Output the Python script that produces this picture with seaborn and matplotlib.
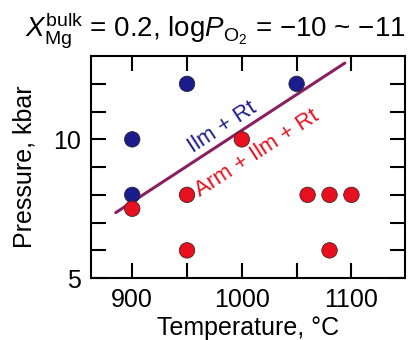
import matplotlib
matplotlib.use('Agg')
import matplotlib.pyplot as plt
import seaborn as sns
import pandas as pd

# Experimental run conditions
temps = [900, 900, 950, 1050, 900, 950, 950, 1000, 1060, 1080, 1100, 1080]
pressures = [10, 8, 12, 12, 7.5, 8, 6, 10, 8, 8, 8, 6]
phases = ['Ilm + Rt'] * 4 + ['Arm + Ilm + Rt'] * 8

# Phase boundary
boundary_t = [885, 1094]
boundary_p = [7.36, 12.75]

df = pd.DataFrame({'T': temps, 'P': pressures, 'phase': phases})
colors = {'Ilm + Rt': '#1c1c8c', 'Arm + Ilm + Rt': '#e8101e'}

sns.set_style('ticks', {'axes.edgecolor': 'black', 'text.color': 'black',
                        'xtick.color': 'black', 'ytick.color': 'black',
                        'axes.labelcolor': 'black'})
plt.rcParams['font.family'] = ['Liberation Sans', 'DejaVu Sans']
plt.rcParams['mathtext.fontset'] = 'custom'
plt.rcParams['mathtext.rm'] = 'Liberation Sans'
plt.rcParams['mathtext.it'] = 'Liberation Sans:italic'

fig = plt.figure(figsize=(4.08, 3.4), dpi=100)
ax = fig.add_axes([0.222, 0.182, 0.771, 0.653])

sns.lineplot(x=boundary_t, y=boundary_p, ax=ax, color='#8a2060', linewidth=2.2)
sns.scatterplot(data=df, x='T', y='P', hue='phase', palette=colors, ax=ax,
                s=125, edgecolor='#222222', linewidth=0.5, legend=False, zorder=3)

ax.text(982, 10.44, 'Ilm + Rt', color=colors['Ilm + Rt'], fontsize=16,
        rotation=33, ha='center', va='center')
ax.text(1014, 9.48, 'Arm + Ilm + Rt', color=colors['Arm + Ilm + Rt'], fontsize=16,
        rotation=33, ha='center', va='center')

ax.set_xlim(862, 1149)
ax.set_ylim(5, 13)
ax.set_xticks([900, 1000, 1100])
ax.set_xticks([950, 1050], minor=True)
ax.set_yticks([5, 10])
ax.set_yticks([6, 7, 8, 9, 11, 12], minor=True)
ax.tick_params(which='both', direction='in', length=11, width=1.5,
               top=True, right=True, labelsize=18, pad=7)
for s in ax.spines.values():
    s.set_linewidth(1.5)

ax.set_xlabel('Temperature, °C', fontsize=18, labelpad=3)
ax.set_ylabel('Pressure, kbar', fontsize=18, labelpad=12)

fig.text(25 / 408, 1 - 37 / 340,
         r'$X_{\rm Mg}^{\rm bulk}$ = 0.2, log$P_{\rm O_2}$ = −10 ~ −11',
         fontsize=20, ha='left', va='baseline')

fig.savefig('out.png', dpi=100)
